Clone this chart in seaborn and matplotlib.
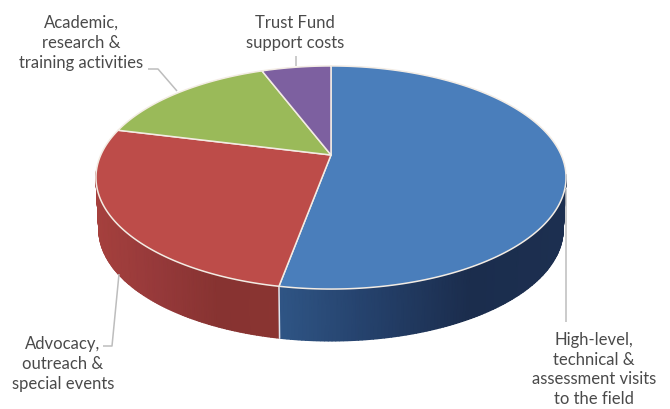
import numpy as np
import matplotlib
matplotlib.use("Agg")
import matplotlib.pyplot as plt
import seaborn as sns

# Budget shares, clockwise from twelve o'clock
categories = ["High-level,\ntechnical &\nassessment visits\nto the field",
              "Advocacy,\noutreach &\nspecial events",
              "Academic,\nresearch &\ntraining activities",
              "Trust Fund\nsupport costs"]
shares = [52.9, 26.0, 15.3, 5.8]
top_colors = ["#4a7ebb", "#bd4c49", "#9aba59", "#7d60a0"]
# Shading of the visible rim, left to right on screen
rim_shades = {0: ["#2f5585", "#24406a", "#1b2d4d", "#1c2f50"],
              1: ["#a5403d", "#96393a", "#873331", "#8a3431"]}

sns.set_theme(style="white")
plt.rcParams["font.family"] = ["Lato", "DejaVu Sans"]

# Perspective projection of the unit disc onto the page
CX, CY, A, B, K = 331.0, 156.0, 230.2, 107.0, 0.2018
DEPTH, SHRINK = 52.0, 0.988


def project(theta, r=1.0, lower=False):
    u, v = r * np.sin(theta), r * np.cos(theta)
    w = 1 + K * v
    x, y = A * u / w, -B * v / w
    if lower:
        return CX + x * SHRINK, CY + y + DEPTH
    return CX + x, CY + y


fig = plt.figure(figsize=(6.7, 4.1), dpi=100)
ax = fig.add_axes([0, 0, 1, 1])
ax.set_xlim(0, 670)
ax.set_ylim(410, 0)
ax.axis("off")

edges = np.r_[0, np.cumsum(shares)] / np.sum(shares) * 2 * np.pi
RIM_START, RIM_END = np.radians(100), np.radians(262)

# Rim of the front slices, with a horizontal shading
for i, shades in rim_shades.items():
    lo, hi = max(edges[i], RIM_START), min(edges[i + 1], RIM_END)
    t = np.linspace(lo, hi, 120)
    x0, y0 = project(t)
    x1, y1 = project(t, lower=True)
    X = np.vstack([x0, x1])
    Y = np.vstack([y0, y1])
    cmap = sns.blend_palette(shades[::-1] if i == 1 else shades, as_cmap=True)
    span = (X[0] - X[0].min()) / (X[0].max() - X[0].min())
    if i == 1:
        span = 1 - span
    ax.pcolormesh(X, Y, np.vstack([span, span]), cmap=cmap,
                  shading="gouraud", vmin=0, vmax=1, zorder=1)

# Seam between the two rim sections
tb = edges[1]
x0, y0 = project(tb)
x1, y1 = project(tb, lower=True)
ax.plot([x0, x1], [y0, y1], color="#dfe6ef", lw=1.1, zorder=2)

# Top face of each slice
for i, color in enumerate(top_colors):
    t = np.linspace(edges[i], edges[i + 1], 200)
    x, y = project(t)
    ax.fill(np.r_[CX, x], np.r_[CY, y], facecolor=color, edgecolor="#f3ece4",
            lw=1.1, joinstyle="round", zorder=3)

# Leader lines
leader = dict(color="#bdbdbd", lw=1.1, zorder=2.5, solid_capstyle="butt")
ax.plot([566, 566], [190, 323], **leader)
ax.plot([103, 112, 119], [347, 347, 275], **leader)
ax.plot([148, 158, 177], [70, 70, 92], **leader)
ax.plot([296, 296], [57, 67], **leader)

# Category labels
positions = [(594, 369.5), (63, 364), (81, 43), (295, 33)]
for label, (x, y) in zip(categories, positions):
    ax.text(x, y, label, ha="center", va="center", fontsize=12,
            color="#4a4a4a", linespacing=1.3, zorder=5)

fig.savefig("out.png", dpi=100)
